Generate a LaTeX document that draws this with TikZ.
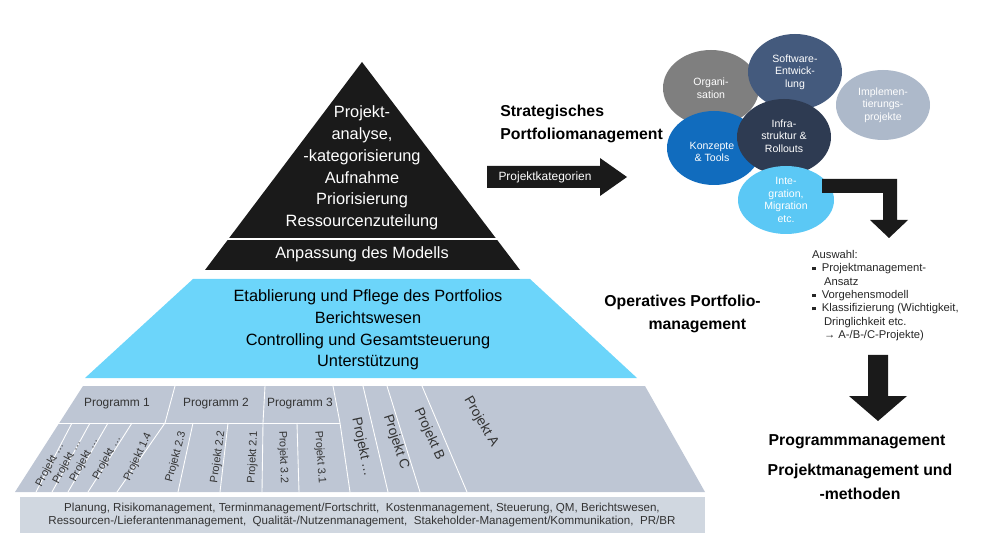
\documentclass[tikz,border=0pt]{standalone}
\usepackage{fontspec}
\setmainfont{Liberation Sans}
\definecolor{cgray}{RGB}{127,127,127}
\definecolor{csoft}{RGB}{68,90,125}
\definecolor{cimpl}{RGB}{173,185,202}
\definecolor{ckonz}{RGB}{17,108,190}
\definecolor{cinfra}{RGB}{46,59,82}
\definecolor{cint}{RGB}{91,200,245}
\definecolor{ctri}{RGB}{26,26,26}
\definecolor{cblue}{RGB}{108,213,250}
\definecolor{cpyr}{RGB}{190,198,212}
\definecolor{cbar}{RGB}{208,215,224}
\begin{document}
\begin{tikzpicture}[x=0.02cm,y=-0.02cm,
 big/.style={font=\fontsize{9.3}{12.4}\selectfont,align=center},
 head/.style={font=\fontsize{9}{13.5}\selectfont\bfseries},
 lbl/.style={font=\fontsize{6.8}{8}\selectfont,text=black!80},
 plbl/.style={font=\fontsize{6.2}{7}\selectfont,text=black!80,inner sep=0pt},
 etxt/.style={font=\fontsize{6}{7.2}\selectfont,align=center,text=white},
 blk/.style={fill=ctri,draw=none}]
\useasboundingbox (0,0) rectangle (991,557);
% top triangle
\fill[ctri] (362,62) -- (520,270) -- (205,270) -- cycle;
\draw[white,line width=0.8pt] (224,239) -- (500,239);
\node[big,text=white] (t1) at (362,168) {Projekt-\\analyse,\\-kategorisierung\\Aufnahme\\Priorisierung\\Ressourcenzuteilung};
\node[big,text=white] (t2) at (362,254) {Anpassung des Modells};
% blue trapezoid
\fill[cblue] (193,279) -- (530,279) -- (637,378) -- (85,378) -- cycle;
\node[big] (b1) at (368,330) {Etablierung und Pflege des Portfolios\\Berichtswesen\\Controlling und Gesamtsteuerung\\Unterstützung};
% gray trapezoid
\fill[cpyr] (83,386) -- (645,386) -- (705,492) -- (15,492) -- cycle;
\begin{scope}[white,line width=0.5pt]
\draw (58,423) -- (340,423);
\draw (175,386) -- (165,423);
\draw (265,386) -- (263,423);
\draw (333,386) -- (340,423);
\draw (72,423) -- (36,492);
\draw (90,423) -- (52,492);
\draw (108,423) -- (68,492);
\draw (132,423) -- (88,492);
\draw (165,423) -- (117,492);
\draw (193,423) -- (178,492);
\draw (228,423) -- (220,492);
\draw (263,423) -- (262,492);
\draw (297,423) -- (299,492);
\draw (340,423) -- (350,492);
\draw (363,386) -- (388,492);
\draw (387,386) -- (420,492);
\draw (422,386) -- (467,492);
\end{scope}
\node[lbl] (p1) at (117,404) {Programm 1};
\node[lbl] (p2) at (216,404) {Programm 2};
\node[lbl] (p3) at (300,404) {Programm 3};
\node[plbl,rotate=62] (q1) at (50,465) {Projekt …};
\node[plbl,rotate=62] (q2) at (67,462) {Projekt …};
\node[plbl,rotate=62] (q3) at (84,460) {Projekt …};
\node[plbl,rotate=62] (q4) at (107,458) {Projekt …};
\node[plbl,rotate=65] (q5) at (138,457) {Projekt 1.4};
\node[plbl,rotate=75] (q6) at (176,457) {Projekt 2.3};
\node[plbl,rotate=82] (q7) at (218,457) {Projekt 2.2};
\node[plbl,rotate=87] (q8) at (253,457) {Projekt 2.1};
\node[plbl,rotate=-88] (q9) at (283,457) {Projekt 3.2};
\node[plbl,rotate=-86] (q10) at (320,457) {Projekt 3.1};
\node[plbl,rotate=-78,font=\fontsize{7.8}{9}\selectfont] (q11) at (362,447) {Projekt …};
\node[plbl,rotate=-72,font=\fontsize{7.8}{9}\selectfont] (q12) at (396,442) {Projekt C};
\node[plbl,rotate=-66,font=\fontsize{7.8}{9}\selectfont] (q13) at (429,434) {Projekt B};
\node[plbl,rotate=-60,font=\fontsize{7.8}{9}\selectfont] (q14) at (481,422) {Projekt A};
% bottom bar
\fill[cbar] (20,497) rectangle (705,533);
\node[lbl,align=center,font=\fontsize{6.6}{7.8}\selectfont] (bb) at (362,515) {Planung,\ Risikomanagement,\ Terminmanagement/Fortschritt,\ \ Kostenmanagement,\ Steuerung,\ QM,\ Berichtswesen,\\Ressourcen-/Lieferantenmanagement,\ \ Qualität-/Nutzenmanagement,\ \ Stakeholder-Management/Kommunikation,\ \ PR/BR};
% headings
\node[head,align=left,anchor=west,inner sep=0pt] (s1) at (500,124) {Strategisches\\Portfoliomanagement};
\node[head,align=left,anchor=west,inner sep=0pt] (s2) at (604,314) {Operatives Portfolio-\\\hspace*{2.8em}management};
\node[head] (s3) at (857,442) {Programmmanagement};
\node[head,align=center] (s4) at (860,482) {Projektmanagement und\\-methoden};
% Projektkategorien arrow
\fill[blk] (487,166) -- (600,166) -- (600,158) -- (627,177) -- (600,196) -- (600,188) -- (487,188) -- cycle;
\node[font=\fontsize{6.8}{8}\selectfont,text=white] (pk) at (545,177) {Projektkategorien};
% ellipses
\fill[cgray] (711,88) ellipse (48 and 38);
\node[etxt] (e1) at (711,88) {Organi-\\sation};
\fill[csoft] (795,72) ellipse (47 and 38);
\node[etxt] (e2) at (795,72) {Software-\\Entwick-\\lung};
\fill[cimpl] (883,105) ellipse (47 and 35);
\node[etxt] (e3) at (883,105) {Implemen-\\tierungs-\\projekte};
\fill[ckonz] (714,148) ellipse (47 and 37);
\node[etxt] (e4) at (712,152) {Konzepte\\\& Tools};
\fill[cinfra] (784,137) ellipse (47 and 38);
\node[etxt] (e5) at (784,136) {Infra-\\struktur \&\\Rollouts};
\fill[cint] (786,200) ellipse (48 and 34);
\node[etxt] (e6) at (786,200) {Inte-\\gration,\\Migration\\etc.};
% elbow arrow
\fill[blk] (822,179) -- (897,179) -- (897,220) -- (908,220) -- (889,238) -- (870,220) -- (883,220) -- (883,193) -- (822,193) -- cycle;
% Auswahl
\newcommand{\sqb}{\raisebox{0.25ex}{\rule{0.3em}{0.3em}}}
\node[font=\fontsize{6.4}{7.6}\selectfont,align=left,anchor=north west,text=black!85] (aw) at (806,244) {Auswahl:\\
\sqb\ \ Projektmanagement-\\\hspace*{1.05em}Ansatz\\
\sqb\ \ Vorgehensmodell\\
\sqb\ \ Klassifizierung (Wichtigkeit,\\\hspace*{1.05em}Dringlichkeit etc.\\\hspace*{1.05em}→ A-/B-/C-Projekte)};
% down arrow
\fill[blk] (868,355) -- (888,355) -- (888,396) -- (907,396) -- (878,421) -- (849,396) -- (868,396) -- cycle;
\end{tikzpicture}
\end{document}
